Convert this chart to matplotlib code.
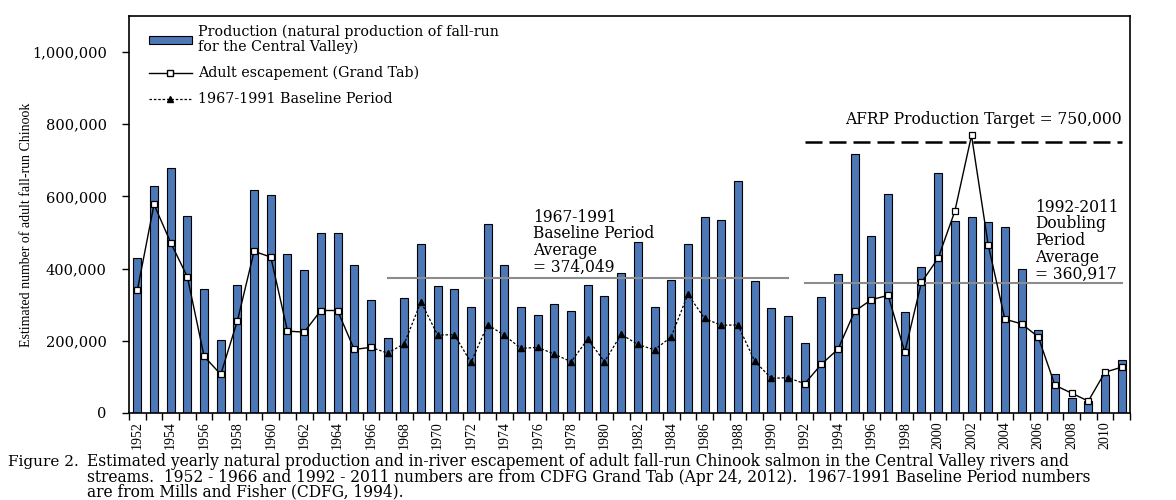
import matplotlib
matplotlib.use("Agg")
import matplotlib.pyplot as plt
from matplotlib.lines import Line2D
from matplotlib.patches import Patch
from matplotlib.ticker import FuncFormatter
import numpy as np


# years on the x axis
years = list(range(1952, 2012))

# natural production of fall-run (bars)
production = [
    430000, 628000, 678000, 547000, 343000, 201000, 354000, 618000, 603000, 441000,
    397000, 499000, 498000, 410000, 312000,
    207000, 318000, 468000, 351000, 343000, 293000, 525000, 410000, 293000, 271000,
    303000, 282000, 356000, 324000, 388000, 473000, 293000, 368000, 468000, 544000,
    534000, 643000, 365000, 291000, 268000,
    194000, 321000, 386000, 717000, 491000, 606000, 279000, 405000, 664000, 531000,
    543000, 529000, 515000, 399000, 229000, 107000, 41000, 32000, 105000, 147000,
]

# adult escapement (Grand Tab), 1952-1966
escapement_early = [340000, 578000, 472000, 377000, 157000, 107000, 256000, 448000,
                    432000, 227000, 224000, 284000, 284000, 176000, 182000]

# 1967-1991 baseline period escapement
baseline = [166000, 192000, 308000, 216000, 217000, 140000, 245000, 215000, 179000,
            182000, 163000, 142000, 205000, 142000, 218000, 190000, 175000, 211000,
            329000, 262000, 243000, 244000, 144000, 96000, 98000]

# adult escapement (Grand Tab), 1992-2011
escapement_late = [81000, 135000, 177000, 282000, 314000, 326000, 169000, 362000,
                   429000, 559000, 769000, 466000, 260000, 247000, 211000, 77000,
                   55000, 33000, 113000, 127000]

baseline_years = (1967, 1991)
doubling_years = (1992, 2011)
baseline_avg = 374049
doubling_avg = 360917
afrp_target = 750000

caption = [
    "Figure 2.",
    "Estimated yearly natural production and in-river escapement of adult fall-run Chinook salmon in the Central Valley rivers and",
    "streams.  1952 - 1966 and 1992 - 2011 numbers are from CDFG Grand Tab (Apr 24, 2012).  1967-1991 Baseline Period numbers",
    "are from Mills and Fisher (CDFG, 1994).",
]

BAR_COLOR = "#4c78b8"
SERIF = "DejaVu Serif"
TIMES = "Liberation Serif"


def idx(year):
    return years.index(year)


def main():
    fig = plt.figure(figsize=(11.76, 5.0), dpi=100)
    ax = fig.add_axes([129 / 1176, 87 / 500, 1001 / 1176, 397 / 500])

    x = np.arange(len(years))

    # bars
    ax.bar(x, production, width=0.48, color=BAR_COLOR, edgecolor="black", linewidth=0.8, zorder=2)

    # averages and target lines
    b0, b1 = idx(baseline_years[0]), idx(baseline_years[1])
    d0, d1 = idx(doubling_years[0]), idx(doubling_years[1])
    ax.plot([b0, b1], [baseline_avg, baseline_avg], color="#8c8c8c", lw=1.5, zorder=3)
    ax.plot([d0, d1], [doubling_avg, doubling_avg], color="#8c8c8c", lw=1.5, zorder=3)
    ax.plot([d0, d1], [afrp_target, afrp_target], color="black", lw=1.8,
            linestyle=(0, (6.8, 2.8)), zorder=3)

    # escapement lines
    n_early = len(escapement_early)
    ax.plot(x[:n_early], escapement_early, color="black", lw=1.0, marker="s",
            markersize=4.5, markerfacecolor="white", markeredgecolor="black",
            markeredgewidth=0.9, zorder=5)

    # dotted baseline series, joined to neighbouring years
    mid_x = x[n_early - 1:b1 + 2]
    mid_y = [escapement_early[-1]] + baseline + [escapement_late[0]]
    ax.plot(mid_x, mid_y, color="black", lw=0.9, linestyle=(0, (2, 1.5)), marker="^",
            markersize=5, markevery=list(range(1, len(baseline) + 1)),
            markerfacecolor="black", markeredgecolor="black", zorder=4)

    ax.plot(x[d0:], escapement_late, color="black", lw=1.0, marker="s",
            markersize=4.5, markerfacecolor="white", markeredgecolor="black",
            markeredgewidth=0.9, zorder=5)

    # axes limits and ticks
    ax.set_xlim(-0.5, len(years) - 0.5)
    ax.set_ylim(0, 1100000)
    ax.set_yticks(np.arange(0, 1000001, 200000))
    ax.yaxis.set_major_formatter(FuncFormatter(lambda v, p: f"{int(v):,}"))
    ax.tick_params(axis="y", direction="out", length=5, width=1, pad=11, labelsize=10.5)
    for lab in ax.get_yticklabels():
        lab.set_fontfamily(SERIF)

    ax.set_xticks(x[::2])
    ax.set_xticklabels([str(y) for y in years[::2]], rotation=90, fontfamily=TIMES, fontsize=10)
    ax.set_xticks(np.arange(-0.5, len(years), 1), minor=True)
    ax.tick_params(axis="x", which="major", length=0, pad=6)
    ax.tick_params(axis="x", which="minor", direction="out", length=5, width=1)

    for spine in ax.spines.values():
        spine.set_linewidth(1.2)

    # annotations
    ax.text(23.7, 566000, "1967-1991\nBaseline Period\nAverage\n= 374,049",
            ha="left", va="top", fontsize=11.2, fontfamily=SERIF, linespacing=0.98, zorder=6)
    ax.text(53.8, 594000, "1992-2011\nDoubling\nPeriod\nAverage\n= 360,917",
            ha="left", va="top", fontsize=11.2, fontfamily=SERIF, linespacing=0.98, zorder=6)
    ax.text(59.0, 812000, "AFRP Production Target = 750,000",
            ha="right", va="center", fontsize=11.2, fontfamily=SERIF, zorder=6)

    # legend
    handles = [
        Patch(facecolor=BAR_COLOR, edgecolor="black", linewidth=0.8),
        Line2D([], [], color="black", lw=1.0, marker="s", markersize=4.5,
               markerfacecolor="white", markeredgecolor="black"),
        Line2D([], [], color="black", lw=0.9, linestyle=(0, (2, 1.5)), marker="^",
               markersize=5, markerfacecolor="black"),
    ]
    labels = [
        "Production (natural production of fall-run\nfor the Central Valley)",
        "Adult escapement (Grand Tab)",
        "1967-1991 Baseline Period",
    ]
    leg = fig.legend(handles, labels, loc="upper left", bbox_to_anchor=(149 / 1176, 1 - 25 / 500),
                     frameon=False, borderpad=0, borderaxespad=0, handlelength=3.0,
                     handleheight=0.45, handletextpad=0.4, labelspacing=0.85,
                     prop={"family": SERIF, "size": 10.3})
    for t in leg.get_texts():
        t.set_linespacing(1.0)

    # y axis label
    fig.text(27 / 1176, 1 - 225 / 500, "Estimated number of adult fall-run Chinook",
             rotation=90, ha="center", va="center", fontsize=10, fontfamily=TIMES)

    # caption
    fig.text(8 / 1176, 1 - 462 / 500, caption[0], ha="left", va="center", fontsize=11, fontfamily=SERIF)
    for i, line in enumerate(caption[1:]):
        fig.text(87 / 1176, 1 - (462 + 15 * i) / 500, line, ha="left", va="center",
                 fontsize=11.2, fontfamily=SERIF)

    fig.savefig("out.png", dpi=100)


if __name__ == "__main__":
    main()
